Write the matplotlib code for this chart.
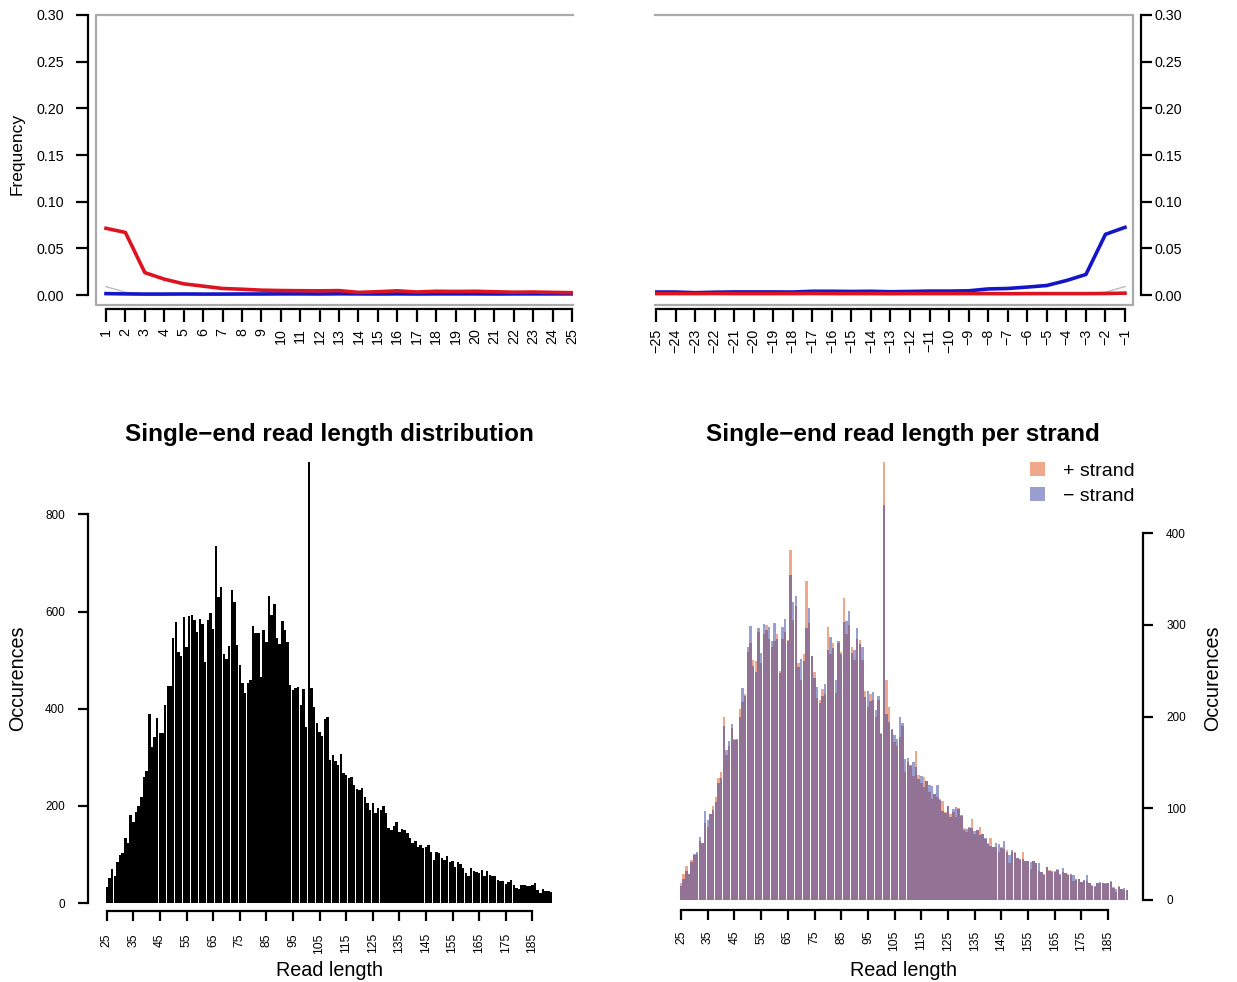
import numpy as np
import matplotlib
matplotlib.use("Agg")
import matplotlib.pyplot as plt
from matplotlib.patches import Patch

plt.rcParams["font.family"] = ["Liberation Sans", "DejaVu Sans"]

W, H = 1237, 982
PT = 0.72  # points per pixel at dpi 100

# ---- top panels: base frequency at read ends ----
pos_5p = list(range(1, 26))
pos_3p = list(range(-25, 0))

red_5p = [0.0715, 0.067, 0.024, 0.017, 0.012, 0.0095, 0.007, 0.0062, 0.0052, 0.0048,
          0.0046, 0.0045, 0.0047, 0.0028, 0.0035, 0.0045, 0.0032, 0.0040, 0.0038, 0.0040,
          0.0035, 0.0030, 0.0032, 0.0028, 0.0025]
blue_5p = [0.0015, 0.0012, 0.0010, 0.0010, 0.0011, 0.0010, 0.0010, 0.0011, 0.0011, 0.0012,
           0.0012, 0.0011, 0.0013, 0.0012, 0.0011, 0.0012, 0.0011, 0.0012, 0.0012, 0.0012,
           0.0011, 0.0012, 0.0012, 0.0012, 0.0012]
gray_5p = [0.009, 0.003, 0.0012, 0.0010, 0.0010, 0.0010, 0.0010, 0.0010, 0.0010, 0.0010,
           0.0010, 0.0010, 0.0010, 0.0010, 0.0010, 0.0010, 0.0010, 0.0010, 0.0010, 0.0010,
           0.0010, 0.0010, 0.0010, 0.0010, 0.0010]

red_3p = [0.0015, 0.0015, 0.0015, 0.0016, 0.0015, 0.0015, 0.0015, 0.0015, 0.0016, 0.0015,
          0.0015, 0.0015, 0.0014, 0.0015, 0.0015, 0.0015, 0.0015, 0.0015, 0.0014, 0.0015,
          0.0015, 0.0015, 0.0015, 0.0016, 0.0020]
blue_3p = [0.0032, 0.0032, 0.0025, 0.0030, 0.0033, 0.0033, 0.0033, 0.0032, 0.0040, 0.0040,
           0.0038, 0.0040, 0.0035, 0.0038, 0.0042, 0.0042, 0.0045, 0.0065, 0.0070, 0.0085,
           0.0102, 0.0155, 0.0220, 0.0650, 0.0725]
gray_3p = [0.0010, 0.0010, 0.0010, 0.0010, 0.0010, 0.0010, 0.0010, 0.0010, 0.0010, 0.0010,
           0.0010, 0.0010, 0.0010, 0.0010, 0.0010, 0.0010, 0.0010, 0.0010, 0.0010, 0.0010,
           0.0010, 0.0010, 0.0012, 0.0030, 0.0090]

freq_ticks = [0.00, 0.05, 0.10, 0.15, 0.20, 0.25, 0.30]

# ---- bottom panels: read length counts per strand (lengths 25..192) ----
read_len = list(range(25, 193))
plus_strand = [
    18, 28, 37, 28, 44, 49, 50, 64, 62, 84,
    80, 94, 102, 112, 133, 139, 200, 158, 168, 188,
    176, 174, 208, 216, 225, 270, 280, 262, 260, 292,
    258, 290, 300, 284, 276, 282, 290, 250, 284, 292,
    283, 381, 305, 320, 258, 240, 268, 348, 302, 266,
    248, 220, 218, 230, 224, 298, 268, 280, 226, 280,
    270, 329, 290, 300, 276, 262, 284, 283, 262, 228,
    210, 225, 218, 200, 218, 182, 477, 240, 210, 185,
    172, 168, 178, 190, 140, 150, 146, 135, 162, 136,
    128, 134, 130, 118, 110, 116, 112, 110, 108, 96,
    102, 94, 96, 90, 100, 92, 78, 74, 80, 88,
    72, 76, 80, 72, 66, 62, 68, 58, 58, 52,
    58, 56, 54, 40, 52, 52, 46, 44, 52, 42,
    43, 34, 42, 40, 32, 31, 28, 36, 33, 31,
    32, 34, 27, 30, 29, 28, 27, 21, 22, 23,
    20, 21, 21, 19, 16, 14, 19, 18, 18, 17,
    19, 20, 14, 9, 15, 12, 11, 11,
]
minus_strand = [
    15, 23, 32, 28, 41, 50, 52, 69, 62, 97,
    87, 94, 98, 107, 127, 133, 190, 164, 173, 192,
    174, 176, 199, 231, 222, 276, 299, 255, 248, 297,
    269, 301, 294, 298, 282, 302, 284, 247, 298, 306,
    282, 354, 325, 331, 254, 263, 261, 297, 318, 266,
    242, 232, 215, 222, 235, 273, 287, 275, 240, 282,
    268, 303, 304, 315, 269, 272, 297, 279, 276, 221,
    228, 217, 227, 207, 222, 181, 431, 203, 194, 186,
    180, 176, 200, 193, 154, 155, 147, 150, 145, 132,
    135, 123, 130, 125, 124, 116, 125, 109, 97, 95,
    103, 91, 99, 101, 99, 93, 76, 77, 78, 78,
    75, 76, 71, 72, 68, 61, 59, 58, 62, 61,
    57, 64, 52, 49, 54, 51, 46, 45, 45, 42,
    43, 41, 42, 40, 40, 31, 27, 36, 32, 32,
    30, 33, 28, 35, 29, 27, 28, 27, 23, 23,
    20, 22, 27, 19, 15, 15, 19, 20, 18, 19,
    19, 21, 13, 12, 14, 12, 13, 11,
]
total_reads = [p + m for p, m in zip(plus_strand, minus_strand)]
len_ticks = list(range(25, 186, 10))

plus_col = (228 / 255, 80 / 255, 25 / 255, 0.5)
minus_col = (55 / 255, 65 / 255, 160 / 255, 0.5)
BAR_W = 0.91


def px_axes(fig, x0, y0, x1, y1):
    return fig.add_axes([x0 / W, 1 - y1 / H, (x1 - x0) / W, (y1 - y0) / H])


def fmt_num(v):
    return str(v).replace("-", "\u2212")


fig = plt.figure(figsize=(W / 100, H / 100), dpi=100)

# ---------- top left ----------
ax = px_axes(fig, 96, 15, 573, 305)
ax.plot(pos_5p, gray_5p, color="#BBBBBB", lw=1)
ax.plot(pos_5p, blue_5p, color="#1515C8", lw=2.6)
ax.plot(pos_5p, red_5p, color="#DC1421", lw=2.6)
ax.set_xlim(0.485, 25.05)
ax.set_ylim(-0.0107, 0.30)
for s in ["top", "right"]:
    ax.spines[s].set_visible(False)
ax.spines["left"].set_position(("outward", 8 * PT))
ax.spines["left"].set_bounds(0, 0.30)
ax.spines["bottom"].set_position(("outward", 4 * PT))
ax.spines["bottom"].set_bounds(1, 25)
for s in ["left", "bottom"]:
    ax.spines[s].set_linewidth(1.6)
ax.set_yticks(freq_ticks)
ax.set_yticklabels([f"{v:.2f}" for v in freq_ticks], fontsize=10.3)
ax.set_xticks(pos_5p)
ax.set_xticklabels([fmt_num(v) for v in pos_5p], rotation=90, fontsize=10.3)
ax.tick_params(axis="y", width=1.6, length=9, pad=8)
ax.tick_params(axis="x", width=1.6, length=9, pad=5)
ax.plot([1, 0, 0, 1], [1, 1, 0, 0], transform=ax.transAxes, color="#AAAAAA",
        lw=1.6, clip_on=False)

# ---------- top right ----------
ax = px_axes(fig, 655, 15, 1133, 305)
ax.plot(pos_3p, gray_3p, color="#BBBBBB", lw=1)
ax.plot(pos_3p, blue_3p, color="#1515C8", lw=2.6)
ax.plot(pos_3p, red_3p, color="#DC1421", lw=2.6)
ax.set_xlim(-25.05, -0.59)
ax.set_ylim(-0.0107, 0.30)
for s in ["top", "left"]:
    ax.spines[s].set_visible(False)
ax.spines["right"].set_position(("outward", 8 * PT))
ax.spines["right"].set_bounds(0, 0.30)
ax.spines["bottom"].set_position(("outward", 4 * PT))
ax.spines["bottom"].set_bounds(-25, -1)
for s in ["right", "bottom"]:
    ax.spines[s].set_linewidth(1.6)
ax.yaxis.tick_right()
ax.set_yticks(freq_ticks)
ax.set_yticklabels([f"{v:.2f}" for v in freq_ticks], fontsize=10.3)
ax.set_xticks(pos_3p)
ax.set_xticklabels([fmt_num(v) for v in pos_3p], rotation=90, fontsize=10.3)
ax.tick_params(axis="y", width=1.6, length=8, pad=1.5)
ax.tick_params(axis="x", width=1.6, length=9, pad=5)
ax.plot([0, 1, 1, 0], [1, 1, 0, 0], transform=ax.transAxes, color="#AAAAAA",
        lw=1.6, clip_on=False)

fig.text(17 / W, 1 - 154 / H, "Frequency", rotation=90, ha="center", va="center", fontsize=12.5)

# ---------- bottom left ----------
ax = px_axes(fig, 105.4, 462, 552.3, 903)
ax.bar(read_len, total_reads, width=BAR_W, color="black", linewidth=0)
ax.set_xlim(24.5, 192.5)
ax.set_ylim(0, 908)
for s in ["top", "right"]:
    ax.spines[s].set_visible(False)
ax.spines["left"].set_position(("outward", 17 * PT))
ax.spines["left"].set_bounds(0, 800)
ax.spines["bottom"].set_position(("outward", 8 * PT))
ax.spines["bottom"].set_bounds(25, 185)
for s in ["left", "bottom"]:
    ax.spines[s].set_linewidth(1.6)
ax.set_yticks([0, 200, 400, 600, 800])
ax.set_yticklabels(["0", "200", "400", "600", "800"], fontsize=8.5)
ax.set_xticks(len_ticks)
ax.set_xticklabels([str(v) for v in len_ticks], rotation=90, fontsize=8.7)
ax.tick_params(axis="y", width=1.6, length=7, pad=10)
ax.tick_params(axis="x", width=1.6, length=7, pad=9)

fig.text(329 / W, 1 - 434 / H, "Single\u2212end read length distribution",
         ha="center", va="center", fontsize=17.5, fontweight="bold")
fig.text(329 / W, 1 - 970 / H, "Read length", ha="center", va="center", fontsize=14.2)
fig.text(18 / W, 1 - 678 / H, "Occurences", rotation=90, ha="center", va="center", fontsize=14.2)

# ---------- bottom right ----------
ax = px_axes(fig, 679.7, 462, 1128.2, 900)
ax.bar(read_len, plus_strand, width=BAR_W, color=plus_col, linewidth=0)
ax.bar(read_len, minus_strand, width=BAR_W, color=minus_col, linewidth=0)
ax.set_xlim(24.5, 192.5)
ax.set_ylim(0, 477.4)
for s in ["top", "left"]:
    ax.spines[s].set_visible(False)
ax.spines["right"].set_position(("outward", 15 * PT))
ax.spines["right"].set_bounds(0, 400)
ax.spines["bottom"].set_position(("outward", 10 * PT))
ax.spines["bottom"].set_bounds(25, 185)
for s in ["right", "bottom"]:
    ax.spines[s].set_linewidth(1.6)
ax.yaxis.tick_right()
ax.set_yticks([0, 100, 200, 300, 400])
ax.set_yticklabels(["0", "100", "200", "300", "400"], fontsize=8.5)
ax.set_xticks(len_ticks)
ax.set_xticklabels([str(v) for v in len_ticks], rotation=90, fontsize=8.7)
ax.tick_params(axis="y", width=1.6, length=7, pad=9.5)
ax.tick_params(axis="x", width=1.6, length=7, pad=8)

handles = [Patch(facecolor=plus_col, edgecolor="none"),
           Patch(facecolor=minus_col, edgecolor="none")]
ax.legend(handles, ["+ strand", "\u2212 strand"], loc="upper left",
          bbox_to_anchor=(1030 / W, 1 - 462 / H), bbox_transform=fig.transFigure,
          frameon=False, fontsize=14, handlelength=0.75, handleheight=0.75,
          handletextpad=0.95, labelspacing=0.35, borderpad=0, borderaxespad=0)

fig.text(903 / W, 1 - 434 / H, "Single\u2212end read length per strand",
         ha="center", va="center", fontsize=17.5, fontweight="bold")
fig.text(903 / W, 1 - 970 / H, "Read length", ha="center", va="center", fontsize=14.2)
fig.text(1213 / W, 1 - 678 / H, "Occurences", rotation=90, ha="center", va="center", fontsize=14.2)

fig.savefig("out.png", dpi=100)
